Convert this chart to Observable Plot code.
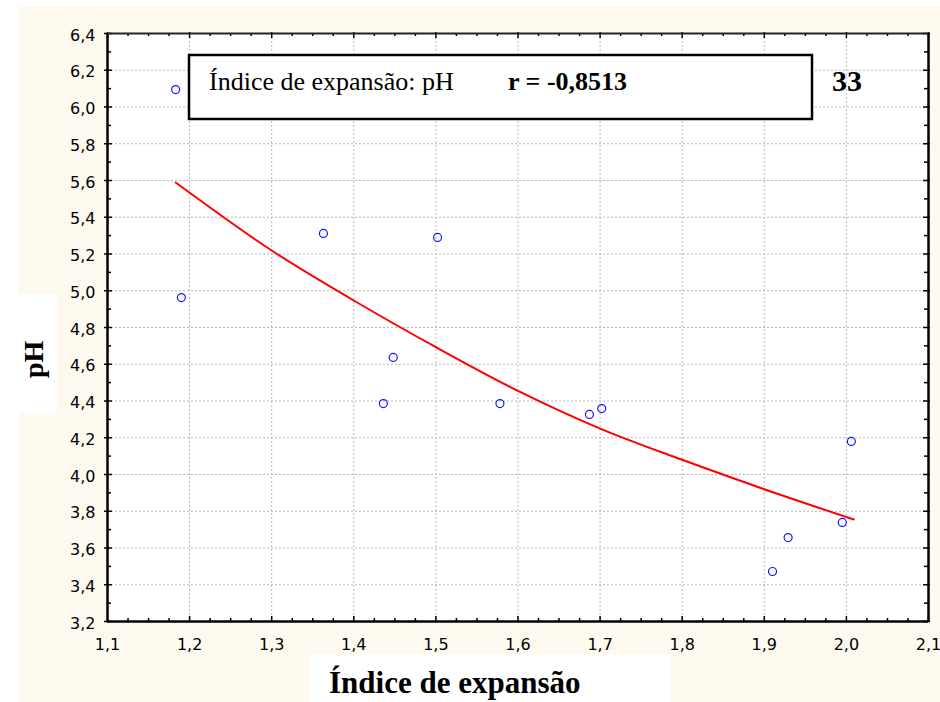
<!DOCTYPE html>
<html>
<head>
<meta charset="utf-8">
<script src="https://cdn.jsdelivr.net/npm/d3@7"></script>
<script src="https://cdn.jsdelivr.net/npm/@observablehq/plot@0.6"></script>
<style>
  html, body { margin: 0; padding: 0; background: #ffffff; }
  #wrap { position: relative; width: 940px; height: 702px; overflow: hidden; }
  #wrap > svg, #wrap > .layer { position: absolute; left: 0; top: 0; }
</style>
</head>
<body>
<div id="wrap"></div>
<script>
// ---- data ----
const expansionIndex = [1.183, 1.190, 1.363, 1.502, 1.448, 1.436, 1.578, 1.687, 1.702, 2.006, 1.995, 1.929, 1.910];
const pHValues       = [6.095, 4.963, 5.312, 5.290, 4.637, 4.386, 4.386, 4.327, 4.359, 4.180, 3.739, 3.657, 3.472];
// fitted curve
const fitX = [1.183, 1.3, 1.4, 1.5, 1.6, 1.7, 1.8, 1.9, 2.009];
const fitY = [5.589, 5.219, 4.947, 4.693, 4.455, 4.25, 4.08, 3.92, 3.755];
// tick labels
const xTicks = [1.1, 1.2, 1.3, 1.4, 1.5, 1.6, 1.7, 1.8, 1.9, 2.0, 2.1];
const yTicks = [3.2, 3.4, 3.6, 3.8, 4.0, 4.2, 4.4, 4.6, 4.8, 5.0, 5.2, 5.4, 5.6, 5.8, 6.0, 6.2, 6.4];
const xTitle = "Índice de expansão";
const yTitle = "pH";
const boxLabel = "Índice de expansão: pH";
const rLabel = "r = -0,8513";
const cornerLabel = "33";

const points = expansionIndex.map((x, i) => ({x, y: pHValues[i]}));
const fit = fitX.map((x, i) => ({x, y: fitY[i]}));

const W = 940, H = 702;
const mL = 107, mR = 12, mT = 33, mB = 81;
const xDom = [1.1, 2.1], yDom = [3.2, 6.4];
const pxX = (xDom[1] - xDom[0]) / (W - mL - mR);
const pxY = (yDom[1] - yDom[0]) / (H - mT - mB);
const xMinor = d3.range(0, 41).map(i => +(1.1 + i * 0.025).toFixed(3)).filter(v => !xTicks.some(t => Math.abs(t - v) < 1e-6));
const yMinor = d3.range(0, 17).map(i => +(3.3 + i * 0.2).toFixed(2)).filter(v => v < 6.4);
const fmt = d => d.toFixed(1).replace(".", ",");
const inner = xTicks.slice(1, -1), innerY = yTicks.slice(1, -1);

const wrap = document.getElementById("wrap");

// underlay: cream background, white title boxes
const under = d3.create("svg").attr("width", W).attr("height", H);
under.append("rect").attr("x", 19).attr("y", 6).attr("width", W - 19).attr("height", H - 6).attr("fill", "#fdf9ee");
under.append("rect").attr("x", 19).attr("y", 294).attr("width", 38).attr("height", 119).attr("fill", "#ffffff");
under.append("rect").attr("x", 310).attr("y", 654).attr("width", 360).attr("height", 48).attr("fill", "#ffffff");
wrap.appendChild(under.node());

const tickStroke = {stroke: "black", strokeWidth: 1.5};
const sans = "DejaVu Sans";
const chart = Plot.plot({
  width: W, height: H,
  marginLeft: mL, marginRight: mR, marginTop: mT, marginBottom: mB,
  style: {background: "transparent", fontFamily: sans, color: "black", overflow: "visible"},
  x: {domain: xDom, axis: null},
  y: {domain: yDom, axis: null},
  marks: [
    Plot.frame({fill: "white", stroke: "none"}),
    Plot.ruleX(inner, {stroke: "#b8b8b8", strokeWidth: 1, strokeDasharray: "2,2"}),
    Plot.ruleY(innerY, {stroke: "#b8b8b8", strokeWidth: 1, strokeDasharray: "2,2"}),
    // left & right ticks
    Plot.ruleY(yTicks, {y: d => d, x1: xDom[0] - 3 * pxX, x2: xDom[0] + 5 * pxX, ...tickStroke}),
    Plot.ruleY(yMinor, {y: d => d, x1: xDom[0], x2: xDom[0] + 4 * pxX, ...tickStroke}),
    Plot.ruleY(yTicks, {y: d => d, x1: xDom[1] - 5 * pxX, x2: xDom[1] + 2 * pxX, ...tickStroke}),
    Plot.ruleY(yMinor, {y: d => d, x1: xDom[1] - 4 * pxX, x2: xDom[1], ...tickStroke}),
    // bottom & top ticks
    Plot.ruleX(xTicks, {x: d => d, y1: yDom[0] - 1 * pxY, y2: yDom[0] + 5 * pxY, ...tickStroke}),
    Plot.ruleX(xMinor, {x: d => d, y1: yDom[0], y2: yDom[0] + 3 * pxY, ...tickStroke}),
    Plot.ruleX(xTicks, {x: d => d, y1: yDom[1] - 5 * pxY, y2: yDom[1] + 1 * pxY, ...tickStroke}),
    Plot.ruleX(xMinor, {x: d => d, y1: yDom[1] - 3 * pxY, y2: yDom[1], ...tickStroke}),
    // borders
    Plot.ruleX([xDom[0], xDom[1]], {stroke: "black", strokeWidth: 2.5}),
    Plot.ruleY([yDom[0]], {stroke: "black", strokeWidth: 2.5}),
    Plot.ruleY([yDom[1]], {stroke: "#222", strokeWidth: 2}),
    // data
    Plot.line(fit, {x: "x", y: "y", stroke: "#ff0000", strokeWidth: 2, curve: "monotone-x"}),
    Plot.dot(points, {x: "x", y: "y", r: 4, stroke: "#1414ff", strokeWidth: 1.2, fill: "none"}),
    // tick labels
    Plot.text(xTicks, {x: d => d, y: yDom[0], text: fmt, lineAnchor: "top", dy: 17, fontSize: 16, fontFamily: sans, fill: "black"}),
    Plot.text(yTicks, {x: xDom[0], y: d => d, text: fmt, textAnchor: "end", lineAnchor: "middle", dx: -12, dy: 2, fontSize: 16, fontFamily: sans, fill: "black"})
  ]
});
chart.classList.add("layer");
wrap.appendChild(chart);

// overlay: annotation box and titles
const over = d3.create("svg").attr("width", W).attr("height", H).style("pointer-events", "none");
const serif = "'Liberation Serif', 'Times New Roman', serif";
over.append("rect").attr("x", 189).attr("y", 55).attr("width", 623).attr("height", 64)
  .attr("fill", "white").attr("stroke", "black").attr("stroke-width", 2.5);
over.append("text").attr("x", 209).attr("y", 90).attr("font-family", serif).attr("font-size", 26).text(boxLabel);
over.append("text").attr("x", 508).attr("y", 90).attr("font-family", serif).attr("font-size", 26).attr("font-weight", "bold").text(rLabel);
over.append("text").attr("x", 832).attr("y", 91).attr("font-family", serif).attr("font-size", 30).attr("font-weight", "bold").text(cornerLabel);
over.append("text").attr("x", 329).attr("y", 693).attr("font-family", serif).attr("font-size", 31).attr("font-weight", "bold").text(xTitle);
over.append("text").attr("transform", "translate(43,378) rotate(-90)").attr("font-family", serif).attr("font-size", 28).attr("font-weight", "bold").text(yTitle);
wrap.appendChild(over.node());
</script>
</body>
</html>
